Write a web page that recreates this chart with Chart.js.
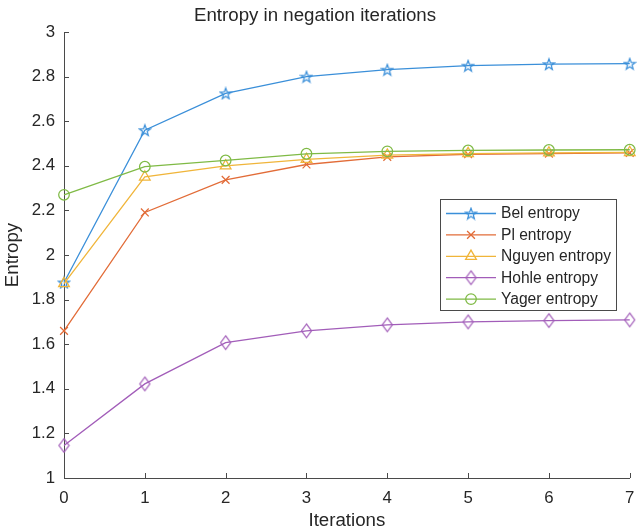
<!DOCTYPE html>
<html>
<head>
<meta charset="utf-8">
<title>Entropy in negation iterations</title>
<script src="https://cdn.jsdelivr.net/npm/chart.js@4/dist/chart.umd.min.js"></script>
<style>
    html, body { margin: 0; padding: 0; background: #fff; }
    #wrap { width: 638px; height: 532px; }
</style>
</head>
<body>
<div id="wrap"><canvas id="chart" width="638" height="532"></canvas></div>
<script>
const iterations = [0, 1, 2, 3, 4, 5, 6, 7];
const belEntropy = [1.877, 2.56, 2.725, 2.80, 2.831, 2.849, 2.856, 2.858];
const plEntropy = [1.66, 2.191, 2.337, 2.406, 2.44, 2.452, 2.455, 2.458];
const nguyenEntropy = [1.872, 2.35, 2.40, 2.429, 2.448, 2.455, 2.458, 2.46];
const hohleEntropy = [1.146, 1.422, 1.607, 1.66, 1.687, 1.70, 1.706, 1.709];
const yagerEntropy = [2.27, 2.396, 2.424, 2.454, 2.465, 2.469, 2.471, 2.472];
const seriesNames = ['Bel entropy', 'Pl entropy', 'Nguyen entropy', 'Hohle entropy', 'Yager entropy'];
const xTicks = [0, 1, 2, 3, 4, 5, 6, 7];
const yTicks = [1, 1.2, 1.4, 1.6, 1.8, 2, 2.2, 2.4, 2.6, 2.8, 3];

const colors = ['#3a8fd9', '#e26c38', '#f0b53a', '#a25db9', '#7fba45'];
const axisColor = '#4a4a4a';
const textColor = '#262626';
const fontFamily = "'Liberation Sans', Arial, Helvetica, sans-serif";

Chart.defaults.font.family = fontFamily;
Chart.defaults.color = textColor;

// MATLAB-like markers that Chart.js does not have
function markerCanvas(w, h, color, draw) {
    const c = document.createElement('canvas');
    c.width = w;
    c.height = h;
    const g = c.getContext('2d');
    g.strokeStyle = color;
    g.lineWidth = 1.25;
    g.lineJoin = 'miter';
    g.beginPath();
    draw(g, w / 2, h / 2);
    g.closePath();
    g.stroke();
    return c;
}

function pentagram(color) {
    return markerCanvas(14, 14, color, (g, cx, cy) => {
        const ro = 5.8, ri = 2.4;
        for (let i = 0; i < 10; i++) {
            const r = i % 2 === 0 ? ro : ri;
            const a = -Math.PI / 2 + i * Math.PI / 5;
            const px = cx + r * Math.cos(a), py = cy + 0.6 + r * Math.sin(a);
            if (i === 0) g.moveTo(px, py); else g.lineTo(px, py);
        }
    });
}

function diamond(color) {
    return markerCanvas(13, 17, color, (g, cx, cy) => {
        g.moveTo(cx, cy - 6.8);
        g.lineTo(cx + 5, cy);
        g.lineTo(cx, cy + 6.8);
        g.lineTo(cx - 5, cy);
    });
}

const pointStyles = [pentagram(colors[0]), 'crossRot', 'triangle', diamond(colors[3]), 'circle'];
const pointRadii = [6, 5.5, 6.2, 7, 5.3];
const seriesValues = [belEntropy, plEntropy, nguyenEntropy, hohleEntropy, yagerEntropy];

const datasets = seriesNames.map((name, i) => ({
    label: name,
    data: iterations.map((x, j) => ({ x: x, y: seriesValues[i][j] })),
    borderColor: colors[i],
    backgroundColor: colors[i],
    borderWidth: 1.3,
    pointStyle: pointStyles[i],
    pointRadius: pointRadii[i],
    pointBorderColor: colors[i],
    pointBackgroundColor: 'rgba(0,0,0,0)',
    pointBorderWidth: 1.25,
    tension: 0,
    clip: false,
    order: seriesNames.length - i
}));

// tick marks drawn inward, as MATLAB does
const innerTicks = {
    id: 'innerTicks',
    afterDraw(chart) {
        const { ctx, chartArea: a, scales: { x, y } } = chart;
        ctx.save();
        ctx.strokeStyle = axisColor;
        ctx.lineWidth = 1;
        ctx.beginPath();
        x.ticks.forEach(t => {
            const px = Math.round(x.getPixelForValue(t.value)) + 0.5;
            ctx.moveTo(px, a.bottom);
            ctx.lineTo(px, a.bottom - 5);
        });
        y.ticks.forEach(t => {
            const py = Math.round(y.getPixelForValue(t.value)) + 0.5;
            ctx.moveTo(a.left, py);
            ctx.lineTo(a.left + 5, py);
        });
        ctx.stroke();
        ctx.restore();
    }
};

// boxed legend inside the plot
const boxLegend = {
    id: 'boxLegend',
    afterDraw(chart) {
        const { ctx } = chart;
        const left = 440.5, top = 199.5, w = 176, h = 111;
        ctx.save();
        ctx.fillStyle = '#fff';
        ctx.fillRect(left, top, w, h);
        ctx.strokeStyle = axisColor;
        ctx.lineWidth = 1;
        ctx.strokeRect(left, top, w, h);
        ctx.font = '15.6px ' + fontFamily;
        ctx.textBaseline = 'middle';
        chart.data.datasets.forEach((ds, i) => {
            const yy = 213.5 + i * 21.4;
            ctx.strokeStyle = ds.borderColor;
            ctx.fillStyle = 'rgba(0,0,0,0)';
            ctx.lineWidth = 1.3;
            ctx.beginPath();
            ctx.moveTo(446, yy);
            ctx.lineTo(496, yy);
            ctx.stroke();
            Chart.helpers.drawPoint(ctx, {
                pointStyle: ds.pointStyle,
                radius: ds.pointRadius,
                rotation: 0,
                borderWidth: 1.25
            }, 471, yy);
            ctx.fillStyle = textColor;
            ctx.fillText(ds.label, 501, yy + 0.5);
        });
        ctx.restore();
    }
};

new Chart(document.getElementById('chart'), {
    type: 'line',
    data: { datasets: datasets },
    options: {
        responsive: false,
        animation: false,
        devicePixelRatio: 1,
        layout: { padding: { left: 0, right: 8, top: 0, bottom: 0 } },
        plugins: {
            legend: { display: false },
            tooltip: { enabled: false },
            title: {
                display: true,
                text: 'Entropy in negation iterations',
                color: textColor,
                font: { size: 18.7, weight: 'normal' },
                padding: { top: 5, bottom: 4.6 }
            }
        },
        scales: {
            x: {
                type: 'linear',
                min: 0,
                max: 7,
                afterBuildTicks: s => { s.ticks = xTicks.map(v => ({ value: v })); },
                afterFit: s => { s.height = 54; s.paddingLeft = 0; s.paddingRight = 0; },
                grid: { drawOnChartArea: false, drawTicks: false },
                border: { color: axisColor, width: 1 },
                ticks: {
                    padding: 10,
                    autoSkip: false,
                    maxRotation: 0,
                    color: textColor,
                    font: { size: 16.8 },
                    callback: v => String(v)
                },
                title: {
                    display: true,
                    text: 'Iterations',
                    color: textColor,
                    font: { size: 18.7 },
                    padding: { top: 0, bottom: 0 }
                }
            },
            y: {
                type: 'linear',
                min: 1,
                max: 3,
                afterBuildTicks: s => { s.ticks = yTicks.map(v => ({ value: v })); },
                afterFit: s => { s.width = 64; s.paddingTop = 0; s.paddingBottom = 0; },
                grid: { drawOnChartArea: false, drawTicks: false },
                border: { color: axisColor, width: 1 },
                ticks: {
                    padding: 9,
                    autoSkip: false,
                    color: textColor,
                    font: { size: 16.8 },
                    callback: v => String(Math.round(v * 10) / 10)
                },
                title: {
                    display: true,
                    text: 'Entropy',
                    color: textColor,
                    font: { size: 18.7 },
                    padding: { top: 2, bottom: 0 }
                }
            }
        }
    },
    plugins: [innerTicks, boxLegend]
});
</script>
</body>
</html>
